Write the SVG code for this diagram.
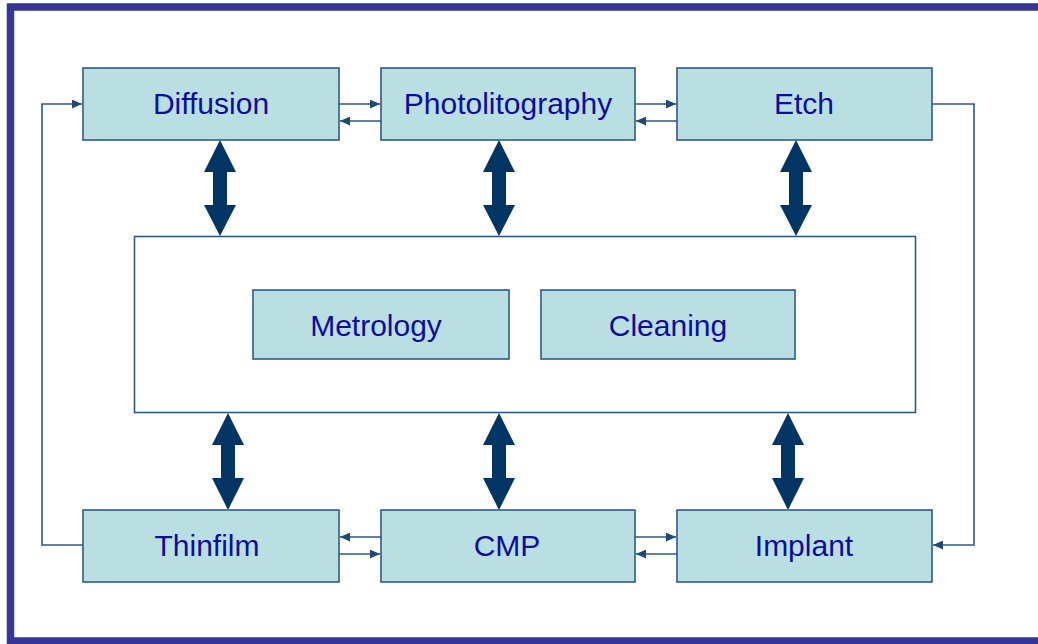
<svg xmlns="http://www.w3.org/2000/svg" width="1038" height="644" viewBox="0 0 1038 644">
<style>
.box{fill:#BADFE3;stroke:#2C5A85;stroke-width:1.6}
.lbl{font-family:"Liberation Sans",Arial,sans-serif;font-size:30px;fill:#0D0D9C;text-anchor:middle}
.ln{fill:none;stroke:#2C5A85;stroke-width:1.6}
.big{fill:#023563}
</style>
<defs>
<marker id="ah" markerUnits="userSpaceOnUse" markerWidth="11" markerHeight="9" refX="10" refY="4.5" orient="auto">
<path d="M0,0 L10,4.5 L0,9 z" fill="#1F4A75"/>
</marker>
</defs>
<rect x="0" y="0" width="1038" height="644" fill="#fff"/>
<rect x="10.5" y="7" width="1040" height="634" fill="none" stroke="#373597" stroke-width="7.5"/>
<g id="center">
<rect x="134.5" y="236.5" width="781" height="176" fill="#fff" stroke="#2C5A85" stroke-width="1.6"/>
</g>
<g id="connectors">
<path class="ln" d="M339,104 H380" marker-end="url(#ah)"/>
<path class="ln" d="M381,121 H340" marker-end="url(#ah)"/>
<path class="ln" d="M635,104 H676" marker-end="url(#ah)"/>
<path class="ln" d="M677,121 H636" marker-end="url(#ah)"/>
<path class="ln" d="M932,104 H974 V545 H933" marker-end="url(#ah)"/>
<path class="ln" d="M83,545 H42 V104 H82" marker-end="url(#ah)"/>
<path class="ln" d="M381,537 H340" marker-end="url(#ah)"/>
<path class="ln" d="M339,554 H380" marker-end="url(#ah)"/>
<path class="ln" d="M635,537 H676" marker-end="url(#ah)"/>
<path class="ln" d="M677,554 H636" marker-end="url(#ah)"/>
<polygon class="big" points="220,140 236,172 227,172 227,205 236,205 220,236 204,205 213,205 213,172 204,172"/>
<polygon class="big" points="499,140 515,172 506,172 506,205 515,205 499,236 483,205 492,205 492,172 483,172"/>
<polygon class="big" points="796,140 812,172 803,172 803,205 812,205 796,236 780,205 789,205 789,172 780,172"/>
<polygon class="big" points="228,413 244,445 235,445 235,478 244,478 228,510 212,478 221,478 221,445 212,445"/>
<polygon class="big" points="499,413 515,445 506,445 506,478 515,478 499,510 483,478 492,478 492,445 483,445"/>
<polygon class="big" points="788,413 804,445 795,445 795,478 804,478 788,510 772,478 781,478 781,445 772,445"/>
</g>
<g id="diffusion"><rect class="box" x="83" y="68" width="256" height="72"/><text class="lbl" x="211" y="114">Diffusion</text></g>
<g id="photolitography"><rect class="box" x="381" y="68" width="254" height="72"/><text class="lbl" x="508" y="114">Photolitography</text></g>
<g id="etch"><rect class="box" x="677" y="68" width="255" height="72"/><text class="lbl" x="804" y="114">Etch</text></g>
<g id="metrology"><rect class="box" x="253" y="290" width="256" height="69"/><text class="lbl" x="376" y="336">Metrology</text></g>
<g id="cleaning"><rect class="box" x="541" y="290" width="254" height="69"/><text class="lbl" x="668" y="336">Cleaning</text></g>
<g id="thinfilm"><rect class="box" x="83" y="510" width="256" height="72"/><text class="lbl" x="207" y="556">Thinfilm</text></g>
<g id="cmp"><rect class="box" x="381" y="510" width="254" height="72"/><text class="lbl" x="507" y="556">CMP</text></g>
<g id="implant"><rect class="box" x="677" y="510" width="255" height="72"/><text class="lbl" x="804" y="556">Implant</text></g>
</svg>
